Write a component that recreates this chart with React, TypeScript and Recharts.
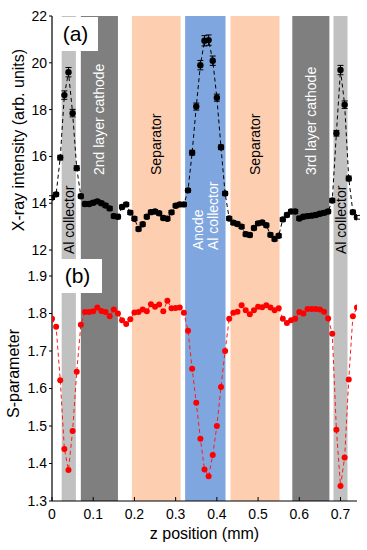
import { ComposedChart, Line, XAxis, YAxis, ReferenceArea, ErrorBar } from 'recharts'

// z positions (mm), one scan step apart
const zPos = [
  0, 0.01, 0.02, 0.03, 0.04, 0.05, 0.06, 0.07, 0.08, 0.09,
  0.1, 0.11, 0.12, 0.13, 0.14, 0.15, 0.16, 0.17, 0.18, 0.19,
  0.2, 0.21, 0.22, 0.23, 0.24, 0.25, 0.26, 0.27, 0.28, 0.29,
  0.3, 0.31, 0.32, 0.33, 0.34, 0.35, 0.36, 0.37, 0.38, 0.39,
  0.4, 0.41, 0.42, 0.43, 0.44, 0.45, 0.46, 0.47, 0.48, 0.49,
  0.5, 0.51, 0.52, 0.53, 0.54, 0.55, 0.56, 0.57, 0.58, 0.59,
  0.6, 0.61, 0.62, 0.63, 0.64, 0.65, 0.66, 0.67, 0.68, 0.69,
  0.7, 0.71, 0.72, 0.73, 0.74,
]

// (a) X-ray intensity, arb. units
const intensity = [
  14.24, 14.38, 15.95, 18.62, 19.6, 17.85, 15.5, 14.3, 13.97, 13.97,
  14.02, 14.08, 14.0, 13.9, 13.78, 13.45, 13.42, 13.84, 13.95, 13.6,
  13.34, 12.9, 13.1, 13.42, 13.62, 13.65, 13.57, 13.37, 13.34, 13.61,
  13.89, 13.95, 13.95, 14.55, 16.16, 18.13, 19.9, 20.94, 20.97, 20.09,
  18.51, 16.39, 14.42, 13.35, 13.17, 13.11, 13.0, 12.68, 12.64, 12.94,
  13.14, 13.18, 13.06, 12.65, 12.47, 12.61, 13.31, 13.5, 13.65, 13.65,
  13.35, 13.42, 13.45, 13.47, 13.5, 13.55, 13.59, 13.65, 14.12, 16.99,
  19.69, 18.21, 15.06, 13.62, 13.4,
]

// error bars only stick out of the markers near the peaks
const intensityErr = [
  0.08, 0.08, 0.1, 0.18, 0.2, 0.16, 0.1, 0.08, 0.08, 0.08,
  0.08, 0.08, 0.08, 0.08, 0.08, 0.08, 0.08, 0.08, 0.08, 0.08,
  0.08, 0.08, 0.08, 0.08, 0.08, 0.08, 0.08, 0.08, 0.08, 0.08,
  0.08, 0.08, 0.08, 0.08, 0.1, 0.15, 0.2, 0.22, 0.22, 0.2,
  0.15, 0.1, 0.08, 0.08, 0.08, 0.08, 0.08, 0.08, 0.08, 0.08,
  0.08, 0.08, 0.08, 0.08, 0.08, 0.08, 0.08, 0.08, 0.08, 0.08,
  0.08, 0.08, 0.08, 0.08, 0.08, 0.08, 0.08, 0.08, 0.08, 0.12,
  0.2, 0.16, 0.1, 0.08, 0.08,
]

// (b) S-parameter
const sParam = [
  1.786, 1.765, 1.622, 1.439, 1.383, 1.487, 1.645, 1.77, 1.804, 1.804,
  1.806, 1.816, 1.807, 1.804, 1.793, 1.811, 1.8, 1.782, 1.772, 1.785,
  1.803, 1.804, 1.811, 1.806, 1.825, 1.818, 1.824, 1.806, 1.834, 1.814,
  1.815, 1.816, 1.802, 1.754, 1.653, 1.562, 1.466, 1.384, 1.366, 1.423,
  1.5, 1.604, 1.7, 1.786, 1.802, 1.805, 1.822, 1.809, 1.798, 1.809,
  1.818, 1.817, 1.822, 1.816, 1.809, 1.814, 1.786, 1.775, 1.782, 1.786,
  1.804, 1.8, 1.812, 1.812, 1.812, 1.811, 1.805, 1.787, 1.746, 1.49,
  1.34, 1.416, 1.624, 1.793, 1.816,
]

// cell layers along z
const bandStart = [0.0235, 0.07, 0.194, 0.323, 0.433, 0.583, 0.683]
const bandEnd = [0.058, 0.16, 0.312, 0.421, 0.552, 0.673, 0.717]
const bandKind = ['al', 'cathode', 'separator', 'anode', 'separator', 'cathode', 'al']
const bandTitles = [
  'Al collector',
  '2nd layer cathode',
  'Separator',
  'Anode\nAl collector',
  'Separator',
  '3rd layer cathode',
  'Al collector',
]

const intensityTicks = [12, 14, 16, 18, 20, 22]
const sTicks = [1.3, 1.4, 1.5, 1.6, 1.7, 1.8, 1.9]
const zTicks = [0, 0.1, 0.2, 0.3, 0.4, 0.5, 0.6, 0.7]

const FONT = "'Liberation Sans', Arial, Helvetica, sans-serif"
const bandFill: Record<string, string> = {
  al: '#c1c1c1',
  cathode: '#7f7f7f',
  separator: '#fdcfb0',
  anode: '#7fa6de',
}
const frame = { stroke: '#000', strokeWidth: 1.2 }
const tickText = { fontSize: 14, fill: '#000', fontFamily: FONT }

const rowsA = zPos.map((z, i) => ({ z, v: intensity[i], err: intensityErr[i] }))
const rowsB = zPos.map((z, i) => ({ z, s: sParam[i] }))

function BandLabel(props: any) {
  const vb = props.viewBox
  const idx = props.idx
  if (!vb) return null
  const kind = bandKind[idx]
  const cx = vb.x + vb.width / 2
  const bottom = vb.y + vb.height
  const color = kind === 'cathode' || kind === 'anode' ? '#fff' : '#000'
  const lines = bandTitles[idx].split('\n')
  let y = vb.y + 159
  if (kind === 'al') y = bottom - 4
  if (kind === 'anode') y = bottom - 8
  return (
    <g>
      {lines.map((ln, k) => {
        const x = cx + (k - (lines.length - 1) / 2) * 15
        return (
          <text
            key={k}
            x={x}
            y={y}
            transform={`rotate(-90 ${x} ${y})`}
            textAnchor="start"
            dominantBaseline="central"
            fontSize={14}
            fontFamily={FONT}
            fill={color}
          >
            {ln}
          </text>
        )
      })}
    </g>
  )
}

function YTitle(props: any) {
  const vb = props.viewBox
  if (!vb) return null
  const cy = vb.y + vb.height / 2 + props.dy
  const cx = props.cx
  return (
    <text
      x={cx}
      y={cy}
      transform={`rotate(-90 ${cx} ${cy})`}
      textAnchor="middle"
      dominantBaseline="central"
      fontSize={16}
      fontFamily={FONT}
      fill="#000"
    >
      {props.text}
    </text>
  )
}

function XTitle(props: any) {
  const vb = props.viewBox
  if (!vb) return null
  return (
    <text
      x={vb.x + vb.width / 2}
      y={vb.y + 38}
      textAnchor="middle"
      fontSize={16}
      fontFamily={FONT}
      fill="#000"
    >
      z position (mm)
    </text>
  )
}

const panelTag = {
  position: 'absolute' as const,
  background: '#fff',
  fontFamily: FONT,
  fontSize: 21,
  color: '#000',
  display: 'flex',
  alignItems: 'center',
  justifyContent: 'center',
}

export default function App() {
  return (
    <div style={{ position: 'absolute', left: 0, top: 0, width: 367, height: 550, background: '#fff' }}>
      <div style={{ position: 'absolute', left: 0, top: 0 }}>
        <ComposedChart width={367} height={262} data={rowsA} margin={{ top: 16, right: 10, bottom: 4, left: 0 }}>
          {bandStart.map((s, i) => (
            <ReferenceArea
              key={i}
              x1={s}
              x2={bandEnd[i]}
              fill={bandFill[bandKind[i]]}
              fillOpacity={1}
              stroke="none"
              label={<BandLabel idx={i} />}
            />
          ))}
          <XAxis dataKey="z" type="number" domain={[0, 0.74]} ticks={zTicks} height={0} tick={false} tickLine={false} axisLine={frame} allowDataOverflow />
          <XAxis xAxisId="top" orientation="top" type="number" domain={[0, 0.74]} height={0} tick={false} tickLine={false} axisLine={frame} />
          <YAxis
            type="number"
            domain={[11.66, 22]}
            ticks={intensityTicks}
            width={52}
            tickSize={3}
            tickMargin={2}
            tick={tickText}
            tickLine={{ stroke: '#000' }}
            axisLine={frame}
            allowDataOverflow
            label={<YTitle text="X-ray intensity (arb. units)" cx={18.5} dy={3} />}
          />
          <YAxis
            yAxisId="right"
            orientation="right"
            type="number"
            domain={[11.66, 22]}
            ticks={intensityTicks}
            width={0}
            tickSize={-4}
            tickFormatter={() => ''}
            tickLine={{ stroke: '#000' }}
            axisLine={frame}
          />
          <Line
            dataKey="v"
            stroke="#000"
            strokeWidth={1}
            strokeDasharray="4 3"
            dot={{ r: 3.2, fill: '#000', stroke: 'none' }}
            isAnimationActive={false}
          >
            <ErrorBar dataKey="err" width={3} stroke="#000" strokeWidth={1} direction="y" />
          </Line>
        </ComposedChart>
      </div>

      <div style={{ position: 'absolute', left: 0, top: 250 }}>
        <ComposedChart width={367} height={300} data={rowsB} margin={{ top: 8, right: 10, bottom: 0, left: 0 }}>
          {bandStart.map((s, i) => (
            <ReferenceArea
              key={i}
              x1={s}
              x2={bandEnd[i]}
              fill={bandFill[bandKind[i]]}
              fillOpacity={1}
              stroke="none"
            />
          ))}
          <XAxis
            dataKey="z"
            type="number"
            domain={[0, 0.74]}
            ticks={zTicks}
            height={49}
            tickSize={-4}
            tickMargin={12.5}
            tick={tickText}
            tickLine={{ stroke: '#000' }}
            axisLine={frame}
            allowDataOverflow
            label={<XTitle />}
          />
          <XAxis
            xAxisId="top"
            orientation="top"
            type="number"
            domain={[0, 0.74]}
            ticks={zTicks}
            height={0}
            tickSize={-4}
            tickFormatter={() => ''}
            tickLine={{ stroke: '#000' }}
            axisLine={frame}
          />
          <YAxis
            type="number"
            domain={[1.3, 1.948]}
            ticks={sTicks}
            width={52}
            tickSize={3}
            tickMargin={2}
            tick={tickText}
            tickLine={{ stroke: '#000' }}
            axisLine={frame}
            allowDataOverflow
            label={<YTitle text="S-parameter" cx={13.5} dy={-6} />}
          />
          <YAxis
            yAxisId="right"
            orientation="right"
            type="number"
            domain={[1.3, 1.948]}
            ticks={sTicks}
            width={0}
            tickSize={-4}
            tickFormatter={() => ''}
            tickLine={{ stroke: '#000' }}
            axisLine={frame}
          />
          <Line
            dataKey="s"
            stroke="#ff1a1a"
            strokeWidth={1}
            strokeDasharray="4 3"
            dot={{ r: 3, fill: '#f00', stroke: 'none' }}
            isAnimationActive={false}
          />
        </ComposedChart>
      </div>

      <div style={{ ...panelTag, left: 53, top: 17, width: 45, height: 34 }}>(a)</div>
      <div style={{ ...panelTag, left: 53, top: 259, width: 49, height: 34 }}>(b)</div>
    </div>
  )
}
